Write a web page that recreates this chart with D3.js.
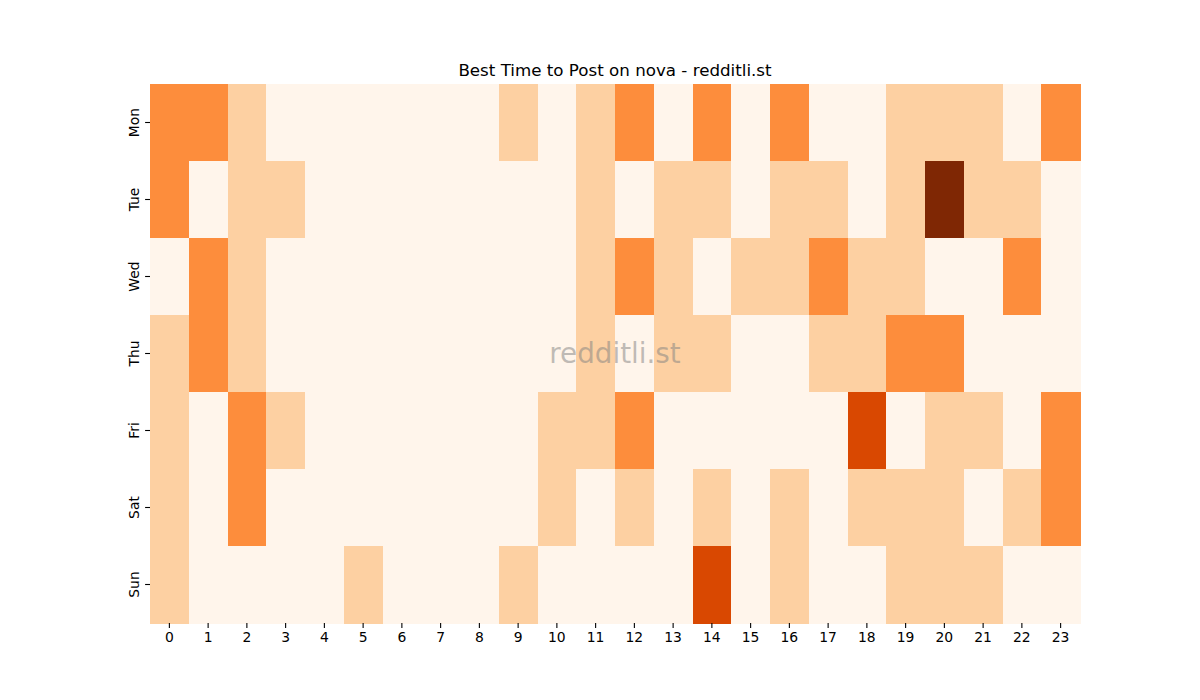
<!DOCTYPE html>
<html>
<head>
<meta charset="utf-8">
<script src="https://cdn.jsdelivr.net/npm/d3@7"></script>
<style>
  body { margin: 0; background: #fff; }
  svg { font-family: "DejaVu Sans", sans-serif; }
</style>
</head>
<body>
<div id="chart"></div>
<script>
var days = ['Mon', 'Tue', 'Wed', 'Thu', 'Fri', 'Sat', 'Sun'];
var hours = d3.range(24);

// one row per day, one value per hour
var mon = [2, 2, 1, 0, 0, 0, 0, 0, 0, 1, 0, 1, 2, 0, 2, 0, 2, 0, 0, 1, 1, 1, 0, 2];
var tue = [2, 0, 1, 1, 0, 0, 0, 0, 0, 0, 0, 1, 0, 1, 1, 0, 1, 1, 0, 1, 4, 1, 1, 0];
var wed = [0, 2, 1, 0, 0, 0, 0, 0, 0, 0, 0, 1, 2, 1, 0, 1, 1, 2, 1, 1, 0, 0, 2, 0];
var thu = [1, 2, 1, 0, 0, 0, 0, 0, 0, 0, 0, 1, 0, 1, 1, 0, 0, 1, 1, 2, 2, 0, 0, 0];
var fri = [1, 0, 2, 1, 0, 0, 0, 0, 0, 0, 1, 1, 2, 0, 0, 0, 0, 0, 3, 0, 1, 1, 0, 2];
var sat = [1, 0, 2, 0, 0, 0, 0, 0, 0, 0, 1, 0, 1, 0, 1, 0, 1, 0, 1, 1, 1, 0, 1, 2];
var sun = [1, 0, 0, 0, 0, 1, 0, 0, 0, 1, 0, 0, 0, 0, 3, 0, 1, 0, 0, 1, 1, 1, 0, 0];
var rows = [mon, tue, wed, thu, fri, sat, sun];

// matplotlib "Oranges" stops
var oranges = ['#fff5eb', '#fee6ce', '#fdd0a2', '#fdae6b', '#fd8d3c',
               '#f16913', '#d94801', '#a63603', '#7f2704'];

var width = 1200, height = 700;
var margin = {top: 84, right: 120, bottom: 77, left: 150};

var svg = d3.select('#chart').append('svg')
    .attr('width', width)
    .attr('height', height);

var x = d3.scaleBand().domain(hours).range([margin.left, width - margin.right]);
var y = d3.scaleBand().domain(days).range([margin.top, height - margin.bottom]);

var vmax = d3.max(rows, function(r) { return d3.max(r); });
var color = d3.scaleLinear()
    .domain(oranges.map(function(c, i) { return i * vmax / (oranges.length - 1); }))
    .range(oranges);

var cells = [];
rows.forEach(function(r, i) {
    r.forEach(function(v, h) {
        cells.push({day: days[i], hour: h, value: v});
    });
});

svg.append('g').selectAll('rect')
    .data(cells)
    .enter()
    .append('rect')
    .attr('x', function(d) { return x(d.hour); })
    .attr('y', function(d) { return y(d.day); })
    .attr('width', x.bandwidth() + 0.5)
    .attr('height', y.bandwidth() + 0.5)
    .attr('shape-rendering', 'crispEdges')
    .style('fill', function(d) { return color(d.value); });

var xAxis = svg.append('g')
    .attr('transform', 'translate(0,' + (height - margin.bottom) + ')')
    .call(d3.axisBottom(x).tickSize(4.9).tickPadding(4.5));

var yAxis = svg.append('g')
    .attr('transform', 'translate(' + margin.left + ',0)')
    .call(d3.axisLeft(y).tickSize(4.9).tickPadding(4.5));

[xAxis, yAxis].forEach(function(g) {
    g.select('.domain').remove();
    g.selectAll('line').attr('stroke', '#000').attr('stroke-width', 1.1);
    g.selectAll('text')
        .attr('fill', '#000')
        .style('font-size', '13.9px')
        .style('font-family', '"DejaVu Sans", sans-serif');
});

// rotated day labels, reading bottom to top
yAxis.selectAll('text')
    .attr('x', null)
    .style('text-anchor', 'middle')
    .attr('transform', 'translate(-15.6,0) rotate(-90)')
    .attr('dy', '0.35em');

// title
svg.append('text')
    .attr('x', (margin.left + width - margin.right) / 2)
    .attr('y', margin.top - 8.5)
    .attr('text-anchor', 'middle')
    .style('font-size', '16.7px')
    .attr('fill', '#000')
    .text('Best Time to Post on nova - redditli.st');

// watermark
svg.append('text')
    .attr('x', (margin.left + width - margin.right) / 2)
    .attr('y', (margin.top + height - margin.bottom) / 2)
    .attr('dy', '0.35em')
    .attr('text-anchor', 'middle')
    .style('font-size', '27.8px')
    .attr('fill', '#808080')
    .attr('fill-opacity', 0.5)
    .text('redditli.st');
</script>
</body>
</html>
